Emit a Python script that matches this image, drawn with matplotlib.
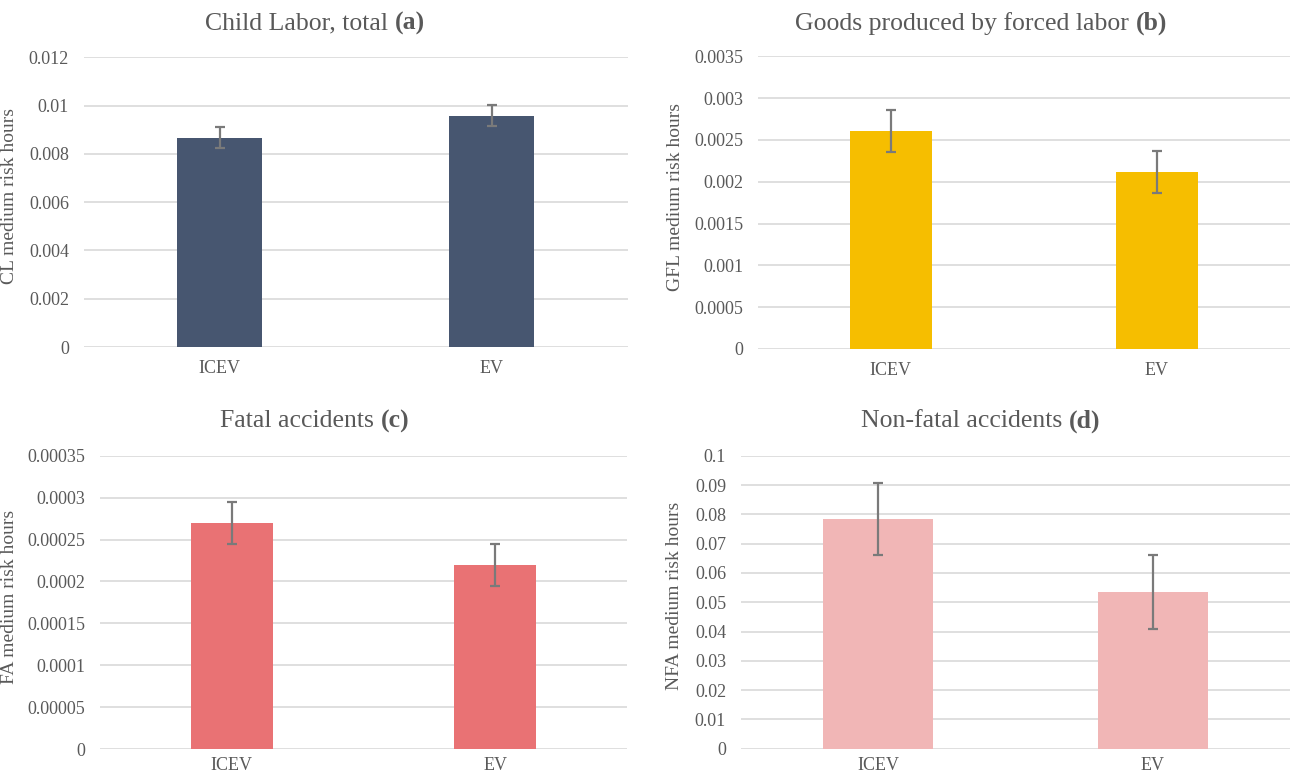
import numpy as np
import matplotlib
matplotlib.use("Agg")
import matplotlib.pyplot as plt

plt.rcParams['font.family'] = ['Liberation Serif', 'DejaVu Serif']

W, H = 1291, 776
DPI = 100

categories = ["ICEV", "EV"]

cl_values = [0.00868, 0.00959]
cl_errors = [0.00045, 0.00044]
gfl_values = [0.00261, 0.00212]
gfl_errors = [0.00025, 0.00025]
fa_values = [0.00027, 0.00022]
fa_errors = [0.000025, 0.000025]
nfa_values = [0.0784, 0.0535]
nfa_errors = [0.0124, 0.0125]

cl_ticks = [0, 0.002, 0.004, 0.006, 0.008, 0.01, 0.012]
gfl_ticks = [0, 0.0005, 0.001, 0.0015, 0.002, 0.0025, 0.003, 0.0035]
fa_ticks = [0, 0.00005, 0.0001, 0.00015, 0.0002, 0.00025, 0.0003, 0.00035]
nfa_ticks = [0, 0.01, 0.02, 0.03, 0.04, 0.05, 0.06, 0.07, 0.08, 0.09, 0.1]

titles = [("Child Labor, total ", "(a)"),
          ("Goods produced by forced labor ", "(b)"),
          ("Fatal accidents ", "(c)"),
          ("Non-fatal accidents ", "(d)")]
ylabels = ["CL medium risk hours", "GFL medium risk hours",
           "FA medium risk hours", "NFA medium risk hours"]

TEXT = "#595959"
GRID = "#DCDCDC"
ERR = "#7a7a7a"

panels = [
    dict(vals=cl_values, errs=cl_errors, ticks=cl_ticks, color="#475670",
         box=(83.5, 57.4, 627.5, 347.0), width=0.31, title_c=(315, 22), ylab_x=18, xpad=9.5),
    dict(vals=gfl_values, errs=gfl_errors, ticks=gfl_ticks, color="#F6BE00",
         box=(757.7, 56.3, 1290.0, 349.0), width=0.31, title_c=(981, 22), ylab_x=684, xpad=9.5),
    dict(vals=fa_values, errs=fa_errors, ticks=fa_ticks, color="#E97274",
         box=(100.0, 455.7, 627.0, 749.0), width=0.31, title_c=(315, 420), ylab_x=18, xpad=6),
    dict(vals=nfa_values, errs=nfa_errors, ticks=nfa_ticks, color="#F1B6B6",
         box=(740.7, 455.7, 1290.0, 748.7), width=0.40, title_c=(981, 420), ylab_x=683, xpad=6),
]


def fmt(v):
    v = round(v, 10)
    if v == 0:
        return "0"
    return np.format_float_positional(v, trim='-')


fig = plt.figure(figsize=(W / DPI, H / DPI), dpi=DPI)
fig.patch.set_facecolor("white")

for i, p in enumerate(panels):
    x0, y0, x1, y1 = p["box"]
    ax = fig.add_axes([x0 / W, 1 - y1 / H, (x1 - x0) / W, (y1 - y0) / H])
    x = np.arange(len(categories))
    ax.bar(x, p["vals"], width=p["width"], color=p["color"], zorder=2)
    ax.errorbar(x, p["vals"], yerr=p["errs"], fmt='none', ecolor=ERR,
                elinewidth=1.6, capsize=3.3, capthick=1.6, zorder=3)
    ax.set_xlim(-0.5, len(categories) - 0.5)
    ax.set_ylim(p["ticks"][0], p["ticks"][-1])
    ax.set_yticks(p["ticks"])
    ax.set_yticklabels([fmt(t) for t in p["ticks"]])
    ax.set_xticks(x)
    ax.set_xticklabels(categories)
    ax.yaxis.grid(True, color=GRID, linewidth=1.3, zorder=0)
    ax.set_axisbelow(True)
    for s in ax.spines.values():
        s.set_visible(False)
    ax.tick_params(axis='y', length=0, pad=10.5, labelsize=13, labelcolor=TEXT)
    ax.tick_params(axis='x', length=0, pad=p["xpad"], labelsize=13, labelcolor=TEXT)
    ax.set_ylabel(ylabels[i], fontsize=14, color=TEXT)
    ax.yaxis.set_label_coords((p["ylab_x"] - x0) / (x1 - x0), 0.52)
    ax.patch.set_alpha(0)

# titles with bold panel letters
fig.canvas.draw()
renderer = fig.canvas.get_renderer()
for i, p in enumerate(panels):
    normal, bold = titles[i]
    cx, cy = p["title_c"]
    t1 = fig.text(0, 0, normal, fontsize=18.5, color=TEXT, va='center', ha='left')
    t2 = fig.text(0, 0, bold, fontsize=18.5, color=TEXT, va='center', ha='left',
                  fontweight='bold')
    w1 = t1.get_window_extent(renderer).width
    w2 = t2.get_window_extent(renderer).width
    start = cx - (w1 + w2) / 2
    t1.set_position((start / W, 1 - (cy + 1.5) / H))
    t2.set_position(((start + w1) / W, 1 - (cy + 1.5) / H))

fig.savefig("out.png", dpi=DPI, facecolor="white")
